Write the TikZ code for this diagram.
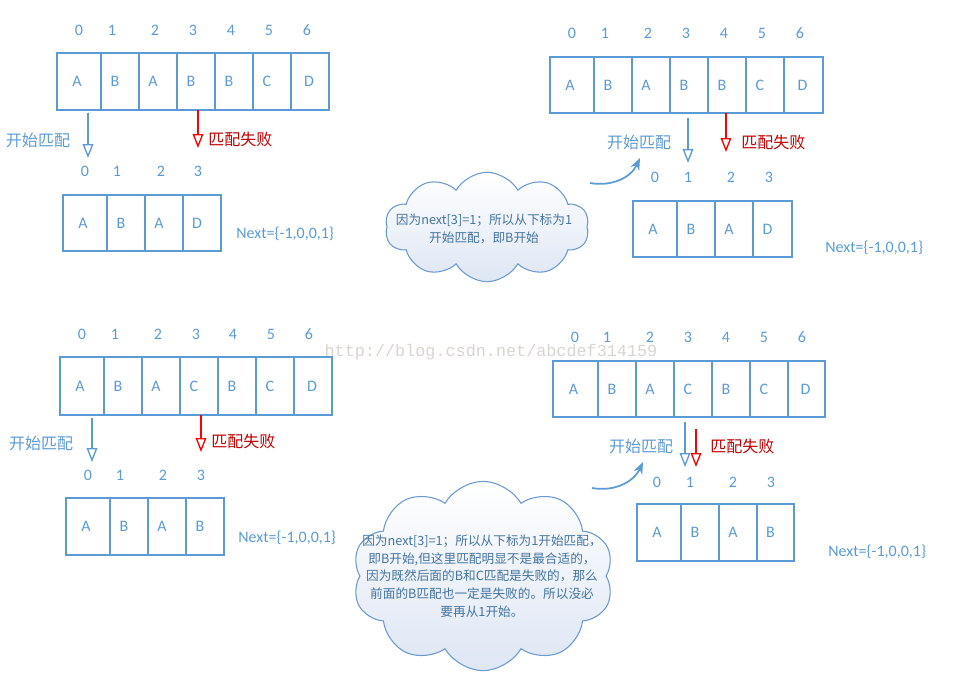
\documentclass[tikz,border=0pt]{standalone}
\usepackage{fontspec}
\setmainfont{Carlito}
\newfontfamily\cjk{Noto Sans CJK SC}
\newfontfamily\wmfont{Liberation Mono}
\usetikzlibrary{arrows.meta,shapes.symbols}
\definecolor{ob}{HTML}{5B9BD5}
\definecolor{rd}{HTML}{FF0000}
\definecolor{dr}{HTML}{C00000}
\definecolor{cl}{HTML}{6A9AD0}
\definecolor{wmc}{HTML}{D9D5CE}
\tikzset{
  cell/.style={draw=ob, line width=1.1pt, inner sep=0pt, text=ob, font=\fontsize{12}{14}\selectfont},
  idx/.style={text=ob, inner sep=0pt, font=\fontsize{12}{14}\selectfont},
  blbl/.style={text=ob, inner sep=0pt, font=\cjk\fontsize{12}{14}\selectfont},
  rlbl/.style={text=dr, inner sep=0pt, anchor=west, font=\cjk\fontsize{12}{14}\selectfont},
  nxt/.style={text=ob, inner sep=0pt, anchor=west, font=\fontsize{12}{14}\selectfont},
  barrow/.style={draw=ob, line width=1pt, -{Triangle[open, length=10.5pt, width=8pt]}},
  rarrow/.style={draw=rd, line width=1pt, -{Triangle[open, length=10.5pt, width=8pt]}},
  carrow/.style={draw=ob, line width=1.3pt, -{Stealth[length=9pt, width=7pt]}},
  cloudst/.style={shape=cloud, cloud puffs=10, cloud puff arc=120, draw=cl, line width=0.8pt,
     top color=white, bottom color={rgb,255:red,222;green,230;blue,244}, inner sep=0pt},
  ctext/.style={text=ob!75!black, inner sep=0pt, align=center, font=\cjk\fontsize{9.5}{13.2}\selectfont},
}
% entries: left/right/letter/shift(pt, letter moves left by half of it)
\newcommand\myarr[4]{%
  \foreach \a/\b/\t/\s [count=\i from 0] in {#4}
    \node[cell, minimum width={(\b-\a)*0.75pt}, minimum height={(#3-#2)*0.75pt}] (#1\i) at ({(\a+\b)/2},{(#2+#3)/2}) {\hspace*{-\s pt}\t};}
\newcommand\myidx[3]{%
  \foreach \x [count=\i from 0] in {#3}
    \node[idx] (#1\i) at (\x,#2) {\i};}
\begin{document}
\begin{tikzpicture}[x=0.75pt,y=-0.75pt]
\useasboundingbox (0,0) rectangle (962,683);
% watermark
\node[text=wmc, inner sep=0pt, font=\wmfont\fontsize{12.6}{14}\selectfont] (wm) at (491,352) {http://blog.csdn.net/abcdef314159};

% ===== top-left =====
\myidx{tli}{30}{79,112,155,193,231,269,307}
\myarr{tla}{53}{110}{57/101/A/3,101/139/B/7.5,139/177/A/7.5,177/215/B/7.5,215/253/B/7.5,253/291/C/7.5,291/329/D/1.5}
\myidx{tlj}{171}{85,117,161,198}
\myarr{tlb}{195}{251}{63/107/A/3,107/145/B/7.5,145/183/A/7.5,183/221/D/7.5}
\node[nxt] (tln) at (236,234) {Next=\{-1,0,0,1\}};
\coordinate (tlbs) at (88,113); \coordinate (tlbe) at (88,158);
\draw[barrow] (tlbs) -- (tlbe);
\node[blbl] (tlbl) at (38,140) {开始匹配};
\coordinate (tlrs) at (198,110); \coordinate (tlre) at (198,148);
\draw[rarrow] (tlrs) -- (tlre);
\node[rlbl] (tlrl) at (208,139) {匹配失败};

% ===== top-right =====
\myidx{tri}{33}{572,605,648,686,724,762,800}
\myarr{tra}{57}{113}{550/594/A/3,594/632/B/7.5,632/670/A/7.5,670/708/B/7.5,708/746/B/7.5,746/784/C/7.5,784/823/D/1.5}
\myidx{trj}{177}{655,688,731,769}
\myarr{trb}{201}{257}{633/677/A/3,677/715/B/7.5,715/753/A/7.5,753/792/D/7.5}
\node[nxt] (trn) at (825,248) {Next=\{-1,0,0,1\}};
\coordinate (trbs) at (688,118); \coordinate (trbe) at (688,163);
\draw[barrow] (trbs) -- (trbe);
\node[blbl] (trbl) at (639,142) {开始匹配};
\coordinate (trrs) at (726,113); \coordinate (trre) at (726,152);
\draw[rarrow] (trrs) -- (trre);
\node[rlbl] (trrl) at (741,142) {匹配失败};
\node[cloudst, minimum width=153pt, minimum height=82pt] (c1) at (487,227) {};
\node[ctext] (c1t) at (484,229) {因为next[3]=1；所以从下标为1\\开始匹配，即B开始};
\coordinate (trcs) at (590,183); \coordinate (trce) at (640,158);
\draw[carrow] (trcs) to[out=-10, in=-115] (trce);

% ===== bottom-left =====
\myidx{bli}{334}{82,115,158,196,233,271,309}
\myarr{bla}{357}{415}{60/104/A/3,104/142/B/7.5,142/180/A/7.5,180/218/C/7.5,218/256/B/7.5,256/294/C/7.5,294/332/D/1.5}
\myidx{blj}{475}{88,120,163,201}
\myarr{blb}{498}{555}{66/110/A/3,110/148/B/7.5,148/186/A/7.5,186/224/B/7.5}
\node[nxt] (bln) at (238,538) {Next=\{-1,0,0,1\}};
\coordinate (blbs) at (92,418); \coordinate (blbe) at (92,462);
\draw[barrow] (blbs) -- (blbe);
\node[blbl] (blbl) at (41,443) {开始匹配};
\coordinate (blrs) at (201,415); \coordinate (blre) at (201,452);
\draw[rarrow] (blrs) -- (blre);
\node[rlbl] (blrl) at (211,441) {匹配失败};

% ===== bottom-right =====
\myidx{bri}{337}{575,607,650,688,726,764,802}
\myarr{bra}{361}{417}{553/598/A/3,598/636/B/7.5,636/674/A/7.5,674/712/C/7.5,712/750/B/7.5,750/788/C/7.5,788/825/D/1.5}
\myidx{brj}{482}{657,690,733,771}
\myarr{brb}{504}{561}{637/681/A/3,681/719/B/7.5,719/757/A/7.5,757/794/B/7.5}
\node[nxt] (brn) at (828,552) {Next=\{-1,0,0,1\}};
\coordinate (brbs) at (685,422); \coordinate (brbe) at (685,467);
\draw[barrow] (brbs) -- (brbe);
\node[blbl] (brbl) at (641,446) {开始匹配};
\coordinate (brrs) at (696,429); \coordinate (brre) at (696,467);
\draw[rarrow] (brrs) -- (brre);
\node[rlbl] (brrl) at (710,446) {匹配失败};
\node[cloudst, minimum width=196pt, minimum height=142pt] (c2) at (483,576) {};
\node[ctext] (c2t) at (482,576) {因为next[3]=1；所以从下标为1开始匹配，\\即B开始,但这里匹配明显不是最合适的，\\因为既然后面的B和C匹配是失败的，那么\\前面的B匹配也一定是失败的。所以没必\\要再从1开始。};
\coordinate (brcs) at (592,488); \coordinate (brce) at (643,462);
\draw[carrow] (brcs) to[out=-10, in=-115] (brce);
\end{tikzpicture}
\end{document}
